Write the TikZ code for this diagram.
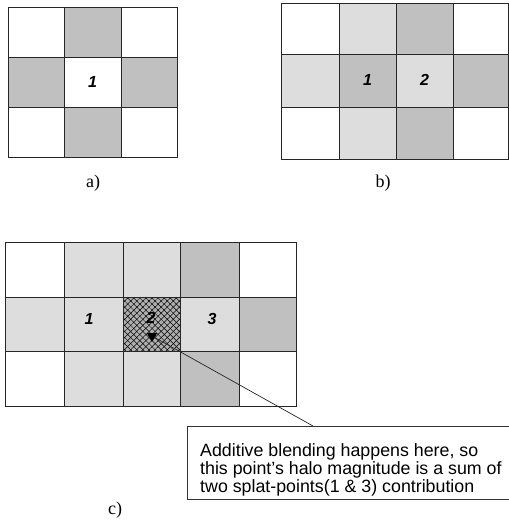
\documentclass[tikz,border=0pt]{standalone}
\usepackage{fontspec}
\setmainfont{Liberation Serif}
\setsansfont{Liberation Sans}
\usepackage{xcolor}
\usepackage{tikz}
\usetikzlibrary{
arrows.meta,
positioning,
shapes.geometric,
patterns.meta
}
\definecolor{halogray}{RGB}{192,192,192}
\definecolor{softgray}{RGB}{221,221,221}
\definecolor{hatchgray}{RGB}{175,175,175}

\begin{document}
\begin{tikzpicture}[
  x=1pt, y=-1pt,
  cellline/.style={draw=black!85, line width=0.8pt},
  halo/.style={fill=halogray},
  soft/.style={fill=softgray},
  num/.style={font=\sffamily\bfseries\itshape\fontsize{16}{16}\selectfont},
  caption/.style={font=\fontsize{18}{18}\selectfont},
  note/.style={draw=black!80, line width=0.8pt, fill=white, inner sep=0pt,
    minimum width=322pt, minimum height=73pt, anchor=north west},
  notetext/.style={font=\sffamily\fontsize{17.8}{18.2}\selectfont, align=left,
    anchor=north west, inner sep=0pt}
]
\useasboundingbox (0,0) rectangle (509,523);

% a) single splat-point
\fill[halo] (64,7) rectangle (121,57);
\fill[halo] (8,57) rectangle (64,107);
\fill[halo] (121,57) rectangle (177,107);
\fill[halo] (64,107) rectangle (121,157);
\draw[cellline] (8,7) rectangle (177,157);
\draw[cellline] (64,7) -- (64,157) (121,7) -- (121,157) (8,57) -- (177,57) (8,107) -- (177,107);
\node[num] (a1) at (92.5,82) {1};
\node[caption] (capa) at (93,183) {a)};

% b) two neighbouring splat-points
\fill[soft] (339,3) rectangle (396,54);
\fill[halo] (396,3) rectangle (453,54);
\fill[soft] (281,54) rectangle (339,107);
\fill[halo] (339,54) rectangle (396,107);
\fill[soft] (396,54) rectangle (453,107);
\fill[halo] (453,54) rectangle (508.5,107);
\fill[soft] (339,107) rectangle (396,159);
\fill[halo] (396,107) rectangle (453,159);
\draw[cellline] (281,3) rectangle (508.5,159);
\draw[cellline] (339,3) -- (339,159) (396,3) -- (396,159) (453,3) -- (453,159)
  (281,54) -- (508.5,54) (281,107) -- (508.5,107);
\node[num] (b1) at (367.5,80) {1};
\node[num] (b2) at (424.5,80) {2};
\node[caption] (capb) at (383,183) {b)};

% c) overlapping halos
\fill[soft] (64,242) rectangle (180,297);
\fill[halo] (180,242) rectangle (239,297);
\fill[soft] (5,297) rectangle (123,351);
\fill[hatchgray] (123,297) rectangle (180,351);
\fill[pattern={Lines[angle=45, distance=4.3pt, line width=0.5pt]}, pattern color=black]
  (123,297) rectangle (180,351);
\fill[pattern={Lines[angle=-45, distance=4.3pt, line width=0.5pt]}, pattern color=black]
  (123,297) rectangle (180,351);
\fill[soft] (180,297) rectangle (239,351);
\fill[halo] (239,297) rectangle (296,351);
\fill[soft] (64,351) rectangle (180,406);
\fill[halo] (180,351) rectangle (239,406);
\draw[cellline] (5,242) rectangle (296,406);
\draw[cellline] (64,242) -- (64,406) (123,242) -- (123,406) (180,242) -- (180,406)
  (239,242) -- (239,406) (5,297) -- (296,297) (5,351) -- (296,351);
\node[num] (c1) at (89,319) {1};
\node[num] (c2) at (151,318) {2};
\node[num] (c3) at (212,319) {3};
\node[regular polygon, regular polygon sides=3, shape border rotate=180, fill=black,
  inner sep=0pt, minimum size=12pt] (blend) at (152,336) {};
\node[caption] (capc) at (115,510) {c)};

% callout
\coordinate (hook) at (313,426);
\draw[black!85, line width=0.7pt] (blend) -- (hook);
\node[note] (box) at (187,426) {};
\node[notetext] (boxtext) at (200,443) {Additive blending happens here, so\\this point’s halo magnitude is a sum of\\two splat-points(1 \& 3) contribution};

\end{tikzpicture}
\end{document}
